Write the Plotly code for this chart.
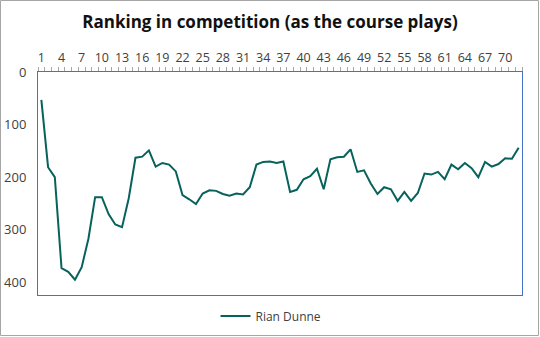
import plotly.graph_objects as go

# Round-by-round ranking of the player
rounds = list(range(1, 73))
ranking = [
    53, 181, 200, 373, 380, 395, 371, 317, 238, 238,
    270, 290, 295, 240, 163, 161, 149, 180, 173, 176,
    189, 234, 242, 251, 231, 225, 226, 232, 235, 231,
    233, 219, 176, 171, 170, 173, 170, 228, 224, 204,
    198, 184, 223, 166, 162, 161, 147, 190, 187, 212,
    232, 219, 223, 245, 228, 245, 230, 193, 195, 190,
    204, 176, 185, 173, 183, 200, 171, 180, 175, 164,
    165, 144,
]
series_name = "Rian Dunne"
chart_title = "Ranking in competition (as the course plays)"
x_tick_vals = list(range(1, 73, 3))
y_tick_vals = [0, 100, 200, 300, 400]

W, H = 540, 337
ML, MR, MT, MB = 38, 18, 72, 42
pw, ph = W - ML - MR, H - MT - MB

fig = go.Figure()
fig.add_trace(go.Scatter(
    x=rounds, y=ranking, mode="lines", name=series_name,
    line=dict(color="#07625C", width=2),
))

font_family = "Open Sans, Noto Sans, sans-serif"

fig.update_layout(
    width=W, height=H,
    margin=dict(l=ML, r=MR, t=MT, b=MB, autoexpand=False),
    paper_bgcolor="white", plot_bgcolor="white",
    title=dict(text="<b>" + chart_title + "</b>", x=0.5, xanchor="center",
               y=1 - 22 / H, yanchor="middle",
               font=dict(family=font_family, size=17, color="#111111")),
    showlegend=True,
    legend=dict(orientation="h", xref="container", x=271 / W, xanchor="center",
                yref="container", y=(H - 316) / H, yanchor="middle",
                font=dict(family=font_family, size=12, color="#404040")),
    xaxis=dict(
        side="top", range=[0.5, 72.5], tickmode="array", tickvals=x_tick_vals,
        ticks="", showgrid=False, zeroline=False, automargin=False,
        showline=True, linecolor="#4472C4", linewidth=1, mirror=True,
        tickfont=dict(family=font_family, size=12.5, color="#404040"),
        ticklabelstandoff=4,
        minor=dict(ticks="outside", tick0=0.5, dtick=1, ticklen=4,
                   tickcolor="#A6A6A6", tickwidth=1),
    ),
    yaxis=dict(
        range=[424, 0], tickmode="array", tickvals=y_tick_vals,
        ticks="", showgrid=False, zeroline=False, automargin=False,
        showline=True, linecolor="#4472C4", linewidth=1, mirror=True,
        tickfont=dict(family=font_family, size=13, color="#404040"),
        ticklabelstandoff=8,
    ),
)

# Outer chart frame
fig.add_shape(type="rect", xref="paper", yref="paper",
              x0=-(ML - 0.5) / pw, x1=1 + (MR - 1.5) / pw,
              y0=-(MB - 1.5) / ph, y1=1 + (MT - 0.5) / ph,
              line=dict(color="#A6A6A6", width=1), fillcolor="rgba(0,0,0,0)")

fig.write_html("out.html")
